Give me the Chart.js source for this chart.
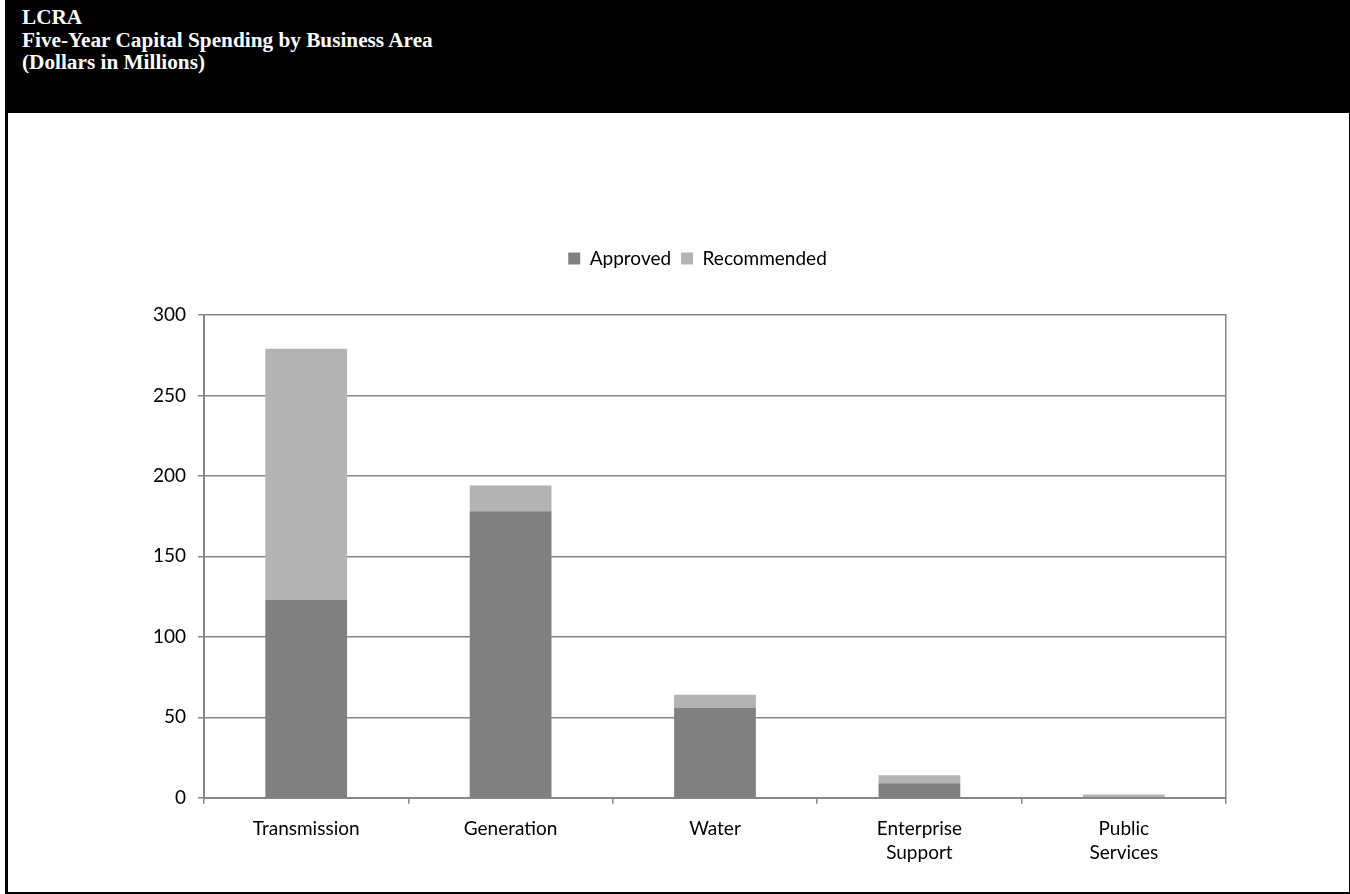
<!DOCTYPE html>
<html>
<head>
<meta charset="utf-8">
<script src="https://cdn.jsdelivr.net/npm/chart.js@4/dist/chart.umd.min.js"></script>
<style>
  body { margin: 0; background: #fff; }
  #frame { position: relative; width: 1350px; height: 894px; }
  #kop {
    position: absolute; left: 5px; top: 0; width: 1345px; height: 113px;
    background: #000; color: #fff; padding-left: 17px; padding-top: 6px; box-sizing: border-box;
    font-family: "Liberation Serif", "Times New Roman", serif; font-weight: bold;
    font-size: 21.25px; line-height: 22.5px;
  }
  #kader {
    position: absolute; left: 5px; top: 0; width: 1345px; height: 894px; box-sizing: border-box;
    border-left: 3px solid #000; border-right: 1px solid #000; border-bottom: 2px solid #000;
  }
  #wrap { position: absolute; left: 8px; top: 113px; width: 1341px; height: 779px; }
</style>
</head>
<body>
<div id="frame">
  <div id="kader"></div>
  <div id="kop">LCRA<br>Five-Year Capital Spending by Business Area<br>(Dollars in Millions)</div>
  <div id="wrap"><canvas id="graficoCapital"></canvas></div>
</div>
<script>
// Dados do gráfico
var categorias = [['Transmission'], ['Generation'], ['Water'], ['Enterprise', 'Support'], ['Public', 'Services']];
var aprovado = [123, 178, 56, 9, 0];
var recomendado = [156, 16, 8, 5, 2];
var ticksY = [0, 50, 100, 150, 200, 250, 300];

var cinzaLinha = '#868686';
var fonte = { family: 'Lato, "Open Sans", sans-serif', size: 19, lineHeight: 1.27 };

// espaço extra abaixo da legenda
var espacoLegenda = {
    id: 'espacoLegenda',
    beforeInit: function(chart){
        var fitOriginal = chart.legend.fit;
        chart.legend.fit = function(){
            fitOriginal.bind(chart.legend)();
            this.height += 37;
        };
    }
};

var ctx = document.getElementById('graficoCapital').getContext('2d');
var graficoCapital = new Chart(ctx, {
    type: 'bar',
    data: {
        labels: categorias,
        datasets: [{
            label: 'Approved',
            backgroundColor: '#808080',
            data: aprovado,
            yAxisID: 'y'
        }, {
            label: 'Recommended',
            backgroundColor: '#b3b3b3',
            data: recomendado,
            yAxisID: 'y'
        }]
    },
    options: {
        responsive: true,
        maintainAspectRatio: false,
        animation: false,
        categoryPercentage: 0.4,
        barPercentage: 1,
        layout: { padding: { top: 126, right: 0, bottom: 14, left: 38 } },
        plugins: {
            legend: {
                position: 'top',
                labels: {
                    boxWidth: 12, boxHeight: 12, padding: 10,
                    color: '#000', font: fonte
                }
            },
            tooltip: { enabled: false }
        },
        scales: {
            x: {
                stacked: true,
                grid: {
                    offset: true,
                    tickLength: 6,
                    tickColor: cinzaLinha,
                    drawOnChartArea: false,
                    lineWidth: 1.5
                },
                border: { color: cinzaLinha, width: 2 },
                ticks: { color: '#000', font: fonte, padding: 13, maxRotation: 0 }
            },
            y: {
                stacked: true,
                min: 0, max: 300,
                afterFit: function(scale){ scale.width = 158; },
                afterBuildTicks: function(scale){
                    scale.ticks = ticksY.map(function(v){ return { value: v }; });
                },
                grid: { color: cinzaLinha, lineWidth: 1.5, tickLength: 6 },
                border: { color: cinzaLinha, width: 2 },
                ticks: { color: '#000', font: fonte, padding: 12 }
            },
            // eixo direito só para a borda da área do gráfico
            yDireita: {
                position: 'right',
                min: 0, max: 300,
                afterFit: function(scale){ scale.width = 123; },
                grid: { display: false },
                border: { display: true, color: cinzaLinha, width: 1.5 },
                ticks: { display: false }
            }
        }
    },
    plugins: [espacoLegenda]
});
</script>
</body>
</html>
